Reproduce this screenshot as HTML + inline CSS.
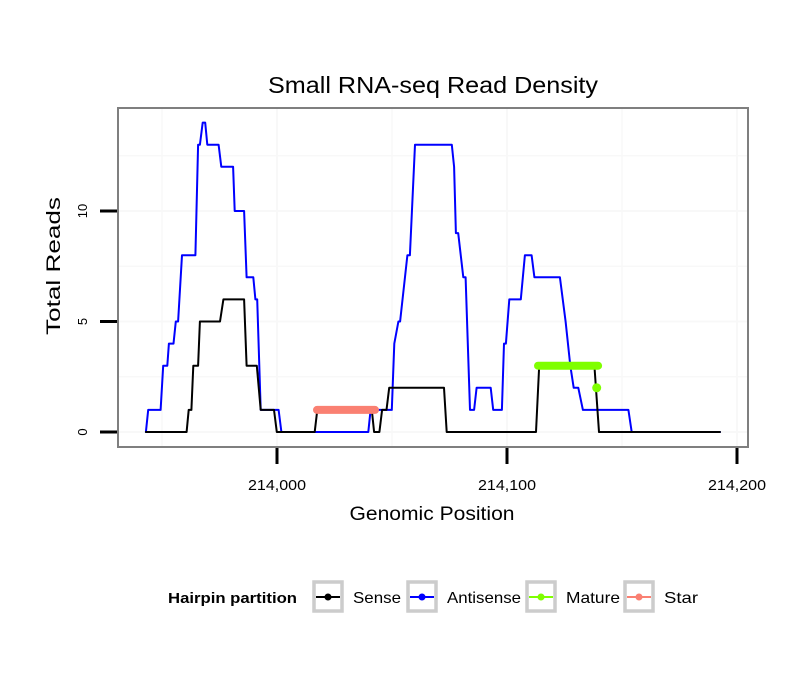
<!DOCTYPE html>
<html><head><meta charset="utf-8"><style>
body{margin:0;background:#fff;}
svg{display:block;font-family:"Liberation Sans",sans-serif;}
</style></head><body>
<svg id="chart" width="810" height="690">
<text x="433" y="93" font-size="23" text-anchor="middle" textLength="330" lengthAdjust="spacingAndGlyphs">Small RNA-seq Read Density</text>
<g id="grid"></g>
<g id="series"></g>
<rect x="118" y="108" width="630" height="339" fill="none" stroke="#7f7f7f" stroke-width="2"/>
<g id="axes"></g>
<text x="432" y="520" font-size="19" text-anchor="middle" textLength="165" lengthAdjust="spacingAndGlyphs">Genomic Position</text>
<text transform="translate(60,266) rotate(-90)" font-size="19" text-anchor="middle" textLength="138" lengthAdjust="spacingAndGlyphs">Total Reads</text>
<g id="legend">
<text x="168" y="603" font-size="15" font-weight="bold" textLength="129" lengthAdjust="spacingAndGlyphs">Hairpin partition</text>
</g>
</svg>
<script>
const xTicks=[214000,214100,214200];
const xTickLabels=["214,000","214,100","214,200"];
const yTicks=[0,5,10];
const yTickLabels=["0","5","10"];
const xMinor=[213950,214050,214150];
const yMinor=[2.5,7.5,12.5];
const antisensePos=[213943,213944,213949.4,213950.5,213952.3,213953,213955,213956,213957,213958.7,213964.5,213965.7,213966.5,213967.7,213968.8,213969.7,213974.6,213975.8,213980.9,213981.6,213985.7,213986.8,213989.7,213990.6,213991.4,213992.9,214000.7,214001.9,214039.7,214040.7,214049.9,214051,214052.8,214053.5,214056.7,214057.8,214060,214076,214077,214077.8,214078.8,214081,214082,214083.9,214085.7,214086.8,214092.9,214094,214097.8,214098.7,214099.5,214101,214106,214107.8,214110.7,214111.9,214123,214125.5,214127.5,214129,214131,214133,214152.8,214154.2,214192.6];
const antisenseVal=[0,1,1,3,3,4,4,5,5,8,8,13,13,14,14,13,13,12,12,10,10,7,7,6,6,1,1,0,0,1,1,4,5,5,8,8,13,13,12,9,9,7,7,1,1,2,2,1,1,4,4,6,6,8,8,7,7,5,3,2,2,1,1,0,0];
const sensePos=[213943,213960.7,213961.6,213962.8,213963.6,213965.7,213966.5,213975.2,213976.7,213985.7,213986.8,213991.2,213992.9,213998.7,213999.9,214016.4,214017.5,214041.2,214042.2,214044.5,214045.7,214047.6,214048.8,214072.6,214073.8,214112.6,214114,214138,214140,214192.6];
const senseVal=[0,0,1,1,3,3,5,5,6,6,3,3,1,1,0,0,1,1,0,0,1,1,2,2,0,0,3,3,0,0];
const starPos=[214017.4,214042.6];
const starVal=[1,1];
const maturePos=[214113.5,214139.6];
const matureVal=[3,3];
const matureDotPos=[214139];
const matureDotVal=[2];
const legendLabels=["Sense","Antisense","Mature","Star"];
const legendColors=["#000000","#0000ff","#7fff00","#fa8072"];

const NS="http://www.w3.org/2000/svg";
function X(v){return 277+(v-214000)*2.3;}
function Y(v){return 432-v*22.1;}
function mk(tag,attrs,parent){const e=document.createElementNS(NS,tag);for(const k in attrs)e.setAttribute(k,attrs[k]);parent.appendChild(e);return e;}
const grid=document.getElementById('grid'),ser=document.getElementById('series'),ax=document.getElementById('axes'),leg=document.getElementById('legend');
mk('rect',{x:118,y:108,width:630,height:339,fill:'#fff'},grid);
xMinor.concat(xTicks).forEach(v=>{if(X(v)>118&&X(v)<748){const l=mk('line',{x1:X(v),x2:X(v),y1:108,y2:447,stroke:'#f8f8f8','stroke-width':xTicks.includes(v)?2:1.5},grid);

}});
yMinor.concat(yTicks).forEach(v=>{const l=mk('line',{x1:118,x2:748,y1:Y(v),y2:Y(v),stroke:'#f8f8f8','stroke-width':yTicks.includes(v)?2:1.5},grid);

});
function path(pos,val,color,w,name){const d=pos.map((p,i)=>(i?'L':'M')+X(p).toFixed(1)+','+Y(val[i]).toFixed(1)).join('');
const p=mk('path',{d:d,fill:'none',stroke:color,'stroke-width':w,'stroke-linecap':'round','stroke-linejoin':'round'},ser);

}
path(antisensePos,antisenseVal,'#0000ff',2,'antisense-line');
path(sensePos,senseVal,'#000000',2,'sense-line');
path(starPos,starVal,'#fa8072',8,'star-segment');
path(maturePos,matureVal,'#7fff00',8,'mature-segment');
matureDotPos.forEach((p,i)=>{const c=mk('circle',{cx:X(p),cy:Y(matureDotVal[i]),r:4.5,fill:'#7fff00'},ser);

});
yTicks.forEach((v,i)=>{const t=mk('rect',{x:100,y:Y(v)-1.5,width:17,height:3,fill:'#000'},ax);


const tx=mk('text',{transform:`translate(87,${Y(v)}) rotate(-90)`,'font-size':13,'text-anchor':'middle'},ax);tx.textContent=yTickLabels[i];

});
xTicks.forEach((v,i)=>{const t=mk('rect',{x:X(v)-1.5,y:448,width:3,height:16,fill:'#000'},ax);


const tx=mk('text',{x:X(v),y:490,'font-size':15,'text-anchor':'middle',textLength:58,lengthAdjust:'spacingAndGlyphs'},ax);tx.textContent=xTickLabels[i];

});
const boxX=[314,408,527,625],textX=[353,447,566,664],textW=[48,74,54,34];
legendLabels.forEach((lab,i)=>{const b=boxX[i];
const r=mk('rect',{x:b,y:582,width:28,height:29,fill:'#fff',stroke:'#cccccc','stroke-width':3.5},leg);


mk('line',{x1:b+2,x2:b+26,y1:597,y2:597,stroke:legendColors[i],'stroke-width':2},leg);
mk('circle',{cx:b+14,cy:597,r:3.5,fill:legendColors[i]},leg);
const t=mk('text',{x:textX[i],y:603,'font-size':16,textLength:textW[i],lengthAdjust:'spacingAndGlyphs'},leg);t.textContent=lab;

});
</script>
</body></html>
